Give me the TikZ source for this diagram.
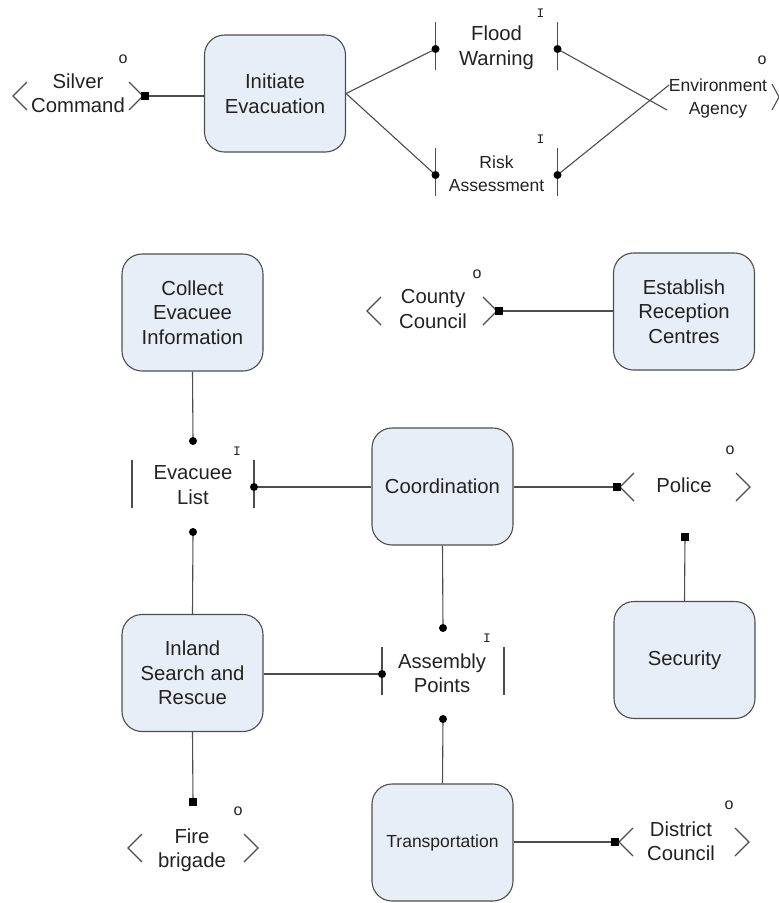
\documentclass[tikz,border=0pt]{standalone}
\usepackage{fontspec}
\setmainfont{Liberation Sans}
\newfontfamily\tagmono{Liberation Mono}
\newcommand\fbig{\fontsize{20.3}{24.5}\selectfont}
\newcommand\fsmall{\fontsize{17.5}{23}\selectfont}
\definecolor{boxfill}{HTML}{E8EEF8}
\definecolor{boxline}{HTML}{4D4D4D}
\definecolor{linec}{HTML}{4D4D4D}
\definecolor{txt}{HTML}{222222}
\tikzset{
  proc/.style={draw=boxline, fill=boxfill, rounded corners=20pt, minimum width=141pt, minimum height=117pt, align=center, font=\fbig, text=txt, line width=1.1pt, inner sep=0pt},
  lbl/.style={align=center, font=\fbig, text=txt, inner sep=0pt},
  slbl/.style={align=center, font=\fsmall, text=txt, inner sep=0pt},
  brk/.style={draw=linec, line width=1.1pt},
  con/.style={draw=linec, line width=1.1pt},
  dotm/.style={circle, fill=black, inner sep=0pt, minimum size=8pt},
  sqm/.style={rectangle, fill=black, inner sep=0pt, minimum size=8pt},
  otag/.style={font=\fontsize{16}{16}\selectfont, text=txt, inner sep=0pt},
  itag/.style={font=\tagmono\fontsize{13}{13}\selectfont, text=txt, inner sep=0pt},
  obr/.pic={
    \draw[brk] (-51,-14) -- (-65,0) -- (-51,14);
    \draw[brk] (51,-14) -- (65,0) -- (51,14);
    \coordinate (-l) at (-65,0);
    \coordinate (-r) at (65,0);
    \coordinate (-t) at (0,-46);
    \coordinate (-b) at (0,50);
    \node[otag] (-tag) at (45,-37) {o};
  },
  obrR/.pic={
    \draw[brk] (58,-13) -- (65,0) -- (58,13);
    \coordinate (-ua) at (-45,-12);
    \coordinate (-la) at (-47,13);
    \node[otag] (-tag) at (48,-37) {o};
  },
  ibr/.pic={
    \draw[brk] (-61,-27) -- (-61,21);
    \draw[brk] (61,-27) -- (61,21);
    \coordinate (-l) at (-61,0);
    \coordinate (-r) at (61,0);
    \coordinate (-t) at (0,-46);
    \coordinate (-b) at (0,45);
    \node[itag] (-tag) at (44,-36) {I};
  }
}
\begin{document}
\begin{tikzpicture}[x=1pt,y=-1pt]
\useasboundingbox (0,0) rectangle (779,903);
% process boxes
\node[proc] (ie) at (275,93.5) {Initiate\\Evacuation};
\node[proc] (cei) at (192.5,312.5) {Collect\\Evacuee\\Information};
\node[proc] (erc) at (684,311.5) {Establish\\Reception\\Centres};
\node[proc] (co) at (442.5,486.5) {Coordination};
\node[proc] (isr) at (192.5,673) {Inland\\Search and\\Rescue};
\node[proc] (sec) at (684.5,660) {Security};
\node[proc, font=\fsmall] (tr) at (442.5,842.5) {Transportation};
% outputs
\pic (sc) at (78,96) {obr};
\node[lbl] (sct) at (78,93) {Silver\\Command};
\pic (cc) at (432,311) {obr};
\node[lbl] (cct) at (433,309) {County\\Council};
\pic (po) at (685,487) {obr};
\node[lbl] (pot) at (684,485) {Police};
\pic (fb) at (193,848) {obr};
\node[lbl] (fbt) at (192,850) {Fire\\brigade};
\pic (dc) at (684,842) {obr};
\node[lbl] (dct) at (681,841) {District\\Council};
\pic (ea) at (714,97) {obrR};
\node[slbl] (eat) at (718,98) {Environment\\Agency};
% inputs
\pic (fw) at (496.5,49) {ibr};
\node[lbl] (fwt) at (496.5,47.5) {Flood\\Warning};
\pic (ra) at (496.5,175) {ibr};
\node[slbl] (rat) at (496.5,173.5) {Risk\\Assessment};
\pic (el) at (193,487) {ibr};
\node[lbl] (elt) at (193,485) {Evacuee\\List};
\pic (ap) at (443,674) {ibr};
\node[lbl] (apt) at (442,673) {Assembly\\Points};
% connectors
\draw[con] (sc-r) -- (sc-r -| ie.west);
\draw[con] (ie.east) -- (fw-l);
\draw[con] (ie.east) -- (ra-l);
\draw[con] (fw-r) -- (ea-la);
\draw[con] (ra-r) -- (ea-ua);
\draw[con] (cc-r) -- (cc-r -| erc.west);
\draw[con] (cei.south) -- (el-t);
\draw[con] (el-r) -- (el-r -| co.west);
\draw[con] (po-l -| co.east) -- (po-l);
\draw[con] (co.south) -- (ap-t);
\draw[con] (el-b) -- (isr.north);
\draw[con] (ap-l -| isr.east) -- (ap-l);
\draw[con] (isr.south) -- (fb-t);
\draw[con] (sec.north) -- (po-b);
\draw[con] (ap-b) -- (tr.north);
\draw[con] (dc-l -| tr.east) -- (dc-l);
% end markers
\foreach \p in {fw-l,fw-r,ra-l,ra-r,el-t,el-r,el-b,ap-t,ap-l,ap-b}
  \node[dotm] at (\p) {};
\node[sqm] at ([xshift=2pt]sc-r) {};
\node[sqm] at ([xshift=2pt]cc-r) {};
\node[sqm] at ([xshift=-3pt]po-l) {};
\node[sqm] at ([xshift=-4pt]dc-l) {};
\node[sqm] at (po-b) {};
\node[sqm] at (fb-t) {};
\end{tikzpicture}
\end{document}
